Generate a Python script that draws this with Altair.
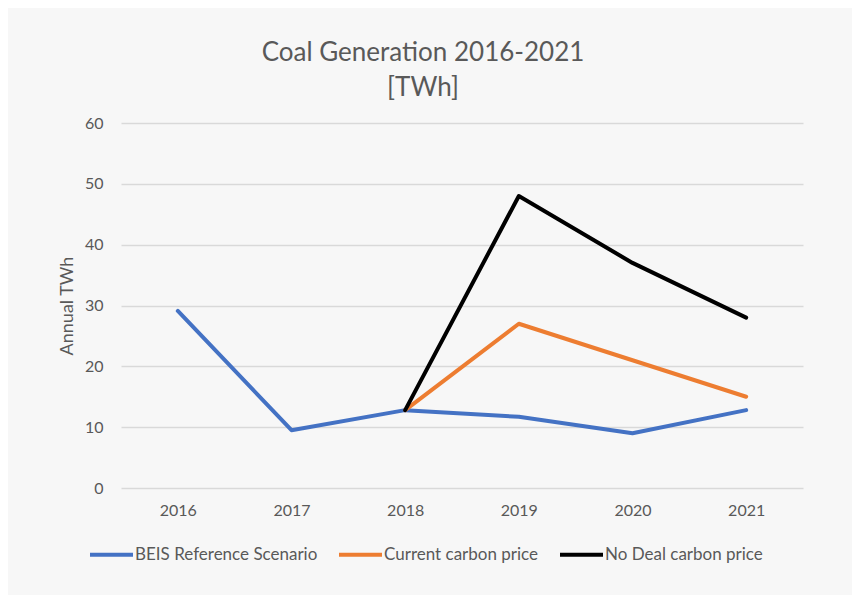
import altair as alt
import pandas as pd

years = ["2016", "2017", "2018", "2019", "2020", "2021"]
beis = [29.1, 9.5, 12.8, 11.7, 9.0, 12.8]
current = [None, None, 12.8, 27.0, 21.0, 15.0]
nodeal = [None, None, 12.8, 48.0, 37.0, 28.0]
series = ["BEIS Reference Scenario", "Current carbon price", "No Deal carbon price"]
colors = ["#4472C4", "#ED7D31", "#000000"]

rows = []
for name, vals in zip(series, [beis, current, nodeal]):
    for y, v in zip(years, vals):
        if v is not None:
            rows.append({"Year": y, "Value": v, "Series": name, "ord": series.index(name)})
df = pd.DataFrame(rows)

FONT = "Lato"
GRAY = "#595959"

chart = alt.Chart(df).mark_line(strokeWidth=4, strokeCap="round", strokeJoin="round").encode(
    x=alt.X("Year:O", sort=years,
            scale=alt.Scale(type="point", padding=0.5),
            axis=alt.Axis(title=None, labelAngle=0, ticks=False, domain=False,
                          labelPadding=14, labelFontSize=16, labelColor=GRAY, labelFont=FONT)),
    y=alt.Y("Value:Q", scale=alt.Scale(domain=[0, 60], nice=False),
            axis=alt.Axis(title="Annual TWh", values=[0, 10, 20, 30, 40, 50, 60],
                          ticks=False, domain=False, labelPadding=18,
                          labelFontSize=16, labelColor=GRAY, labelFont=FONT,
                          titleFontSize=18, titleColor=GRAY, titleFont=FONT,
                          titleFontWeight="normal", titlePadding=8,
                          gridColor="#D9D9D9", gridWidth=1.3)),
    color=alt.Color("Series:N", sort=series,
                    scale=alt.Scale(domain=series, range=colors),
                    legend=alt.Legend(title=None, orient="none", direction="horizontal",
                                      legendX=-33, legendY=408,
                                      symbolType="stroke", symbolSize=1849,
                                      symbolStrokeWidth=4, labelOffset=0,
                                      columnPadding=13, labelFontSize=17, labelLimit=400,
                                      labelColor=GRAY, labelFont=FONT, padding=0)),
    order=alt.Order("ord:Q"),
    detail="Series:N",
).properties(
    width=682,
    height=365,
    title=alt.TitleParams(
        text=["Coal Generation 2016-2021", "[TWh]"],
        fontSize=26, font=FONT, fontWeight="normal", color=GRAY,
        anchor="middle", dx=-39, offset=14, lineHeight=35,
    ),
    autosize=alt.AutoSizeParams(type="none"),
    padding={"left": 113, "top": 115, "right": 49, "bottom": 107},
    background="#F7F7F7",
).configure_view(stroke=None)

chart.save("out.html", embed_options={"renderer": "svg", "actions": False})
